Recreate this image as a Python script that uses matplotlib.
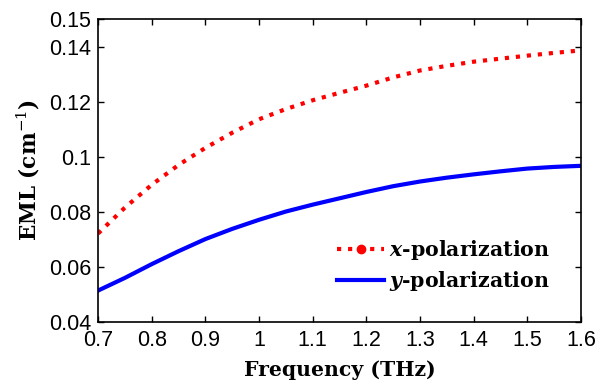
import matplotlib
matplotlib.use('Agg')
import matplotlib.pyplot as plt
from matplotlib.lines import Line2D

plt.rcParams['mathtext.fontset'] = 'custom'
plt.rcParams['mathtext.it'] = 'DejaVu Serif:italic:bold'
plt.rcParams['mathtext.rm'] = 'DejaVu Serif'

# frequency (THz)
freq = [0.70, 0.75, 0.80, 0.85, 0.90, 0.95, 1.00, 1.05, 1.10, 1.15, 1.20,
        1.25, 1.30, 1.35, 1.40, 1.45, 1.50, 1.55, 1.60]
# EML (cm^-1)
eml_x = [0.0721, 0.0815, 0.0898, 0.0970, 0.1032, 0.1087, 0.1136, 0.1173, 0.1205,
         0.1232, 0.1258, 0.1288, 0.1313, 0.1330, 0.1345, 0.1356, 0.1367, 0.1377, 0.1386]
eml_y = [0.0514, 0.0560, 0.0610, 0.0657, 0.0701, 0.0738, 0.0771, 0.0801, 0.0826,
         0.0849, 0.0872, 0.0893, 0.0910, 0.0924, 0.0936, 0.0947, 0.0957, 0.0963, 0.0967]

xticks = [0.7, 0.8, 0.9, 1.0, 1.1, 1.2, 1.3, 1.4, 1.5, 1.6]
xticklabels = ['0.7', '0.8', '0.9', '1', '1.1', '1.2', '1.3', '1.4', '1.5', '1.6']
yticks = [0.04, 0.06, 0.08, 0.10, 0.12, 0.14, 0.15]
yticklabels = ['0.04', '0.06', '0.08', '0.1', '0.12', '0.14', '0.15']

fig = plt.figure(figsize=(6.07, 3.84), dpi=100)
ax = fig.add_axes([98/607, 1 - 322/384, (581-98)/607, (322-19)/384])

ax.plot(freq, eml_x, color='red', ls=':', lw=3)
ax.plot(freq, eml_y, color='blue', ls='-', lw=3)

ax.set_xlim(0.7, 1.6)
ax.set_ylim(0.04, 0.15)
ax.set_xticks(xticks)
ax.set_xticklabels(xticklabels, family='Liberation Sans', fontsize=15.5)
ax.set_yticks(yticks)
ax.set_yticklabels(yticklabels, family='Liberation Sans', fontsize=15.5)
ax.tick_params(direction='in', top=True, right=True, length=4, width=1)
ax.tick_params(axis='x', pad=6)
ax.tick_params(axis='y', pad=5)
for s in ax.spines.values():
    s.set_linewidth(1.2)

ax.set_xlabel('Frequency (THz)', family='DejaVu Serif', weight='bold', fontsize=14.7, labelpad=6)
ax.set_ylabel('EML (cm$^{-1}$)', family='DejaVu Serif', weight='bold', fontsize=15.5, labelpad=5)

handles = [Line2D([0, 0.5, 1], [0, 0, 0], color='red', ls=':', lw=3, marker='.',
                  markersize=12, markevery=[1]),
           Line2D([], [], color='blue', ls='-', lw=3)]
leg = ax.legend(handles, ['$x$-polarization', '$y$-polarization'], loc='lower right',
                bbox_to_anchor=(0.975, 0.035), frameon=False, handlelength=2.3,
                prop={'family': 'DejaVu Serif', 'weight': 'bold', 'size': 14.8},
                labelspacing=0.35, handletextpad=0.25)

fig.savefig('out.png', dpi=100)
